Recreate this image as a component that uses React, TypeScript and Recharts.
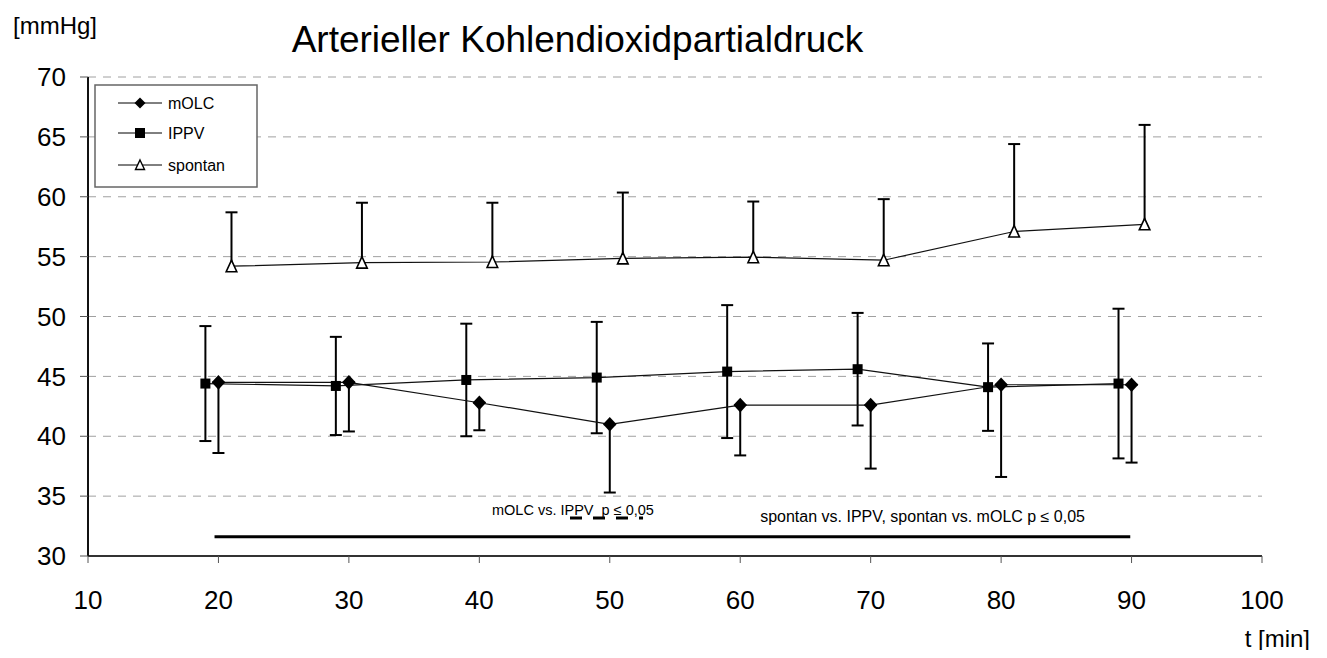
import React from 'react';
import {
  LineChart,
  Line,
  XAxis,
  YAxis,
  CartesianGrid,
  ErrorBar,
  ReferenceLine,
  ReferenceDot,
} from 'recharts';

// ---- data ----
const molcTimes = [20, 30, 40, 50, 60, 70, 80, 90];
const ippvTimes = [19, 29, 39, 49, 59, 69, 79, 89];
const spontanTimes = [21, 31, 41, 51, 61, 71, 81, 91];

const molcMean = [44.5, 44.5, 42.8, 41.0, 42.6, 42.6, 44.3, 44.3];
const molcSd = [5.9, 4.1, 2.3, 5.7, 4.2, 5.3, 7.7, 6.5];

const ippvMean = [44.4, 44.2, 44.7, 44.9, 45.4, 45.6, 44.1, 44.4];
const ippvSd = [4.8, 4.1, 4.7, 4.65, 5.55, 4.7, 3.65, 6.25];

const spontanMean = [54.2, 54.5, 54.55, 54.85, 54.95, 54.7, 57.1, 57.7];
const spontanSd = [4.5, 5.0, 4.95, 5.5, 4.65, 5.1, 7.3, 8.3];

const xTicks = [10, 20, 30, 40, 50, 60, 70, 80, 90, 100];
const yTicks = [30, 35, 40, 45, 50, 55, 60, 65, 70];

const seriesNames = ['mOLC', 'IPPV', 'spontan'];
const titleText = 'Arterieller Kohlendioxidpartialdruck';
const yUnit = '[mmHg]';
const xUnit = 't [min]';

// significance annotations (data coordinates)
const sigSolidX = [19.7, 89.9];
const sigSolidY = 31.6;
const sigDashX = [46.95, 52.55];
const sigDashY = 33.17;
const sigText1 = 'mOLC vs. IPPV  p \u2264 0,05';
const sigText1Pos = { x: 40.97, y: 33.42 };
const sigText2 = 'spontan vs. IPPV, spontan vs. mOLC p \u2264 0,05';
const sigText2Pos = { x: 86.43, y: 32.84 };

// ---- tables built from arrays ----
const molcData = molcTimes.map((t, i) => ({ t, v: molcMean[i], err: [molcSd[i], 0] }));
const ippvData = ippvTimes.map((t, i) => ({ t, v: ippvMean[i], err: ippvSd[i] }));
const spontanData = spontanTimes.map((t, i) => ({
  t,
  v: spontanMean[i],
  err: [0, spontanSd[i]],
  top: spontanMean[i] + spontanSd[i],
}));

const FONT = "'Liberation Sans', Arial, Helvetica, sans-serif";

const DiamondDot = (props: any) => {
  const { cx, cy, index } = props;
  if (cx == null || cy == null) return <g key={`dm-${index}`} />;
  return (
    <polygon
      key={`dm-${index}`}
      points={`${cx},${cy - 7.3} ${cx + 6.8},${cy} ${cx},${cy + 7.3} ${cx - 6.8},${cy}`}
      fill="#000"
    />
  );
};

const SquareDot = (props: any) => {
  const { cx, cy, index } = props;
  if (cx == null || cy == null) return <g key={`sq-${index}`} />;
  return <rect key={`sq-${index}`} x={cx - 5} y={cy - 5} width={10} height={10} fill="#000" />;
};

const TriangleDot = (props: any) => {
  const { cx, cy, index } = props;
  if (cx == null || cy == null) return <g key={`tr-${index}`} />;
  return (
    <polygon
      key={`tr-${index}`}
      points={`${cx},${cy - 6} ${cx + 5.3},${cy + 5.5} ${cx - 5.3},${cy + 5.5}`}
      fill="#fff"
      stroke="#000"
      strokeWidth={1.6}
    />
  );
};

const CapDot = (props: any) => {
  const { cx, cy, index } = props;
  if (cx == null || cy == null) return <g key={`cp-${index}`} />;
  return <line key={`cp-${index}`} x1={cx - 6} x2={cx + 6} y1={cy} y2={cy} stroke="#000" strokeWidth={2} />;
};

const makeLabel = (text: string, anchor: 'start' | 'end', size: number) => (p: any) => {
  const vb = p.viewBox || {};
  return (
    <text
      x={vb.x}
      y={vb.y}
      textAnchor={anchor}
      fontSize={size}
      fontFamily={FONT}
      fill="#000"
      style={{ whiteSpace: 'pre' }}
    >
      {text}
    </text>
  );
};

const Legend = () => {
  const rows = [0, 1, 2];
  const rowY = [18, 48, 80];
  return (
    <g transform="translate(87,77)">
      <rect x={0} y={0} width={162} height={102} fill="#fff" stroke="#666" strokeWidth={1.5} />
      {rows.map((r) => {
        const y = rowY[r];
        return (
          <g key={r}>
            <line x1={23} x2={67} y1={y} y2={y} stroke="#000" strokeWidth={1} />
            {r === 0 && (
              <polygon points={`45,${y - 5.5} 50.5,${y} 45,${y + 5.5} 39.5,${y}`} fill="#000" />
            )}
            {r === 1 && <rect x={40} y={y - 5} width={10} height={10} fill="#000" />}
            {r === 2 && (
              <polygon
                points={`45,${y - 5} 49.5,${y + 4.5} 40.5,${y + 4.5}`}
                fill="#fff"
                stroke="#000"
                strokeWidth={1.4}
              />
            )}
            <text x={73} y={y + 5.8} fontSize={16} fontFamily={FONT} fill="#000">
              {seriesNames[r]}
            </text>
          </g>
        );
      })}
    </g>
  );
};

export default function App() {
  return (
    <div style={{ position: 'relative', width: 1311, height: 642, fontFamily: FONT, background: '#fff' }}>
      <LineChart
        width={1311}
        height={642}
        margin={{ top: 69, right: 57, left: 0, bottom: 34 }}
      >
        <CartesianGrid horizontal vertical={false} stroke="#a0a0a0" strokeDasharray="8 7" />
        <XAxis
          dataKey="t"
          type="number"
          domain={[10, 100]}
          ticks={xTicks}
          interval={0}
          allowDataOverflow
          height={60}
          tickSize={7}
          tickMargin={28}
          axisLine={{ stroke: '#333', strokeWidth: 2 }}
          tickLine={{ stroke: '#555', strokeWidth: 1 }}
          tick={{ fill: '#000', fontSize: 26, fontFamily: FONT }}
        />
        <YAxis
          type="number"
          domain={[30, 70]}
          ticks={yTicks}
          interval={0}
          allowDataOverflow
          width={80}
          tickSize={8}
          tickMargin={14}
          axisLine={{ stroke: '#111', strokeWidth: 2 }}
          tickLine={{ stroke: '#555', strokeWidth: 1 }}
          tick={{ fill: '#000', fontSize: 26, fontFamily: FONT }}
        />
        <ReferenceLine
          segment={[{ x: sigSolidX[0], y: sigSolidY }, { x: sigSolidX[1], y: sigSolidY }]}
          stroke="#000"
          strokeWidth={3}
          ifOverflow="visible"
        />
        <ReferenceLine
          segment={[{ x: sigDashX[0], y: sigDashY }, { x: sigDashX[1], y: sigDashY }]}
          stroke="#000"
          strokeWidth={3}
          strokeDasharray="12 11"
          ifOverflow="visible"
        />
        <ReferenceDot
          x={sigText1Pos.x}
          y={sigText1Pos.y}
          r={0}
          fill="none"
          stroke="none"
          ifOverflow="visible"
          label={makeLabel(sigText1, 'start', 14.5)}
        />
        <ReferenceDot
          x={sigText2Pos.x}
          y={sigText2Pos.y}
          r={0}
          fill="none"
          stroke="none"
          ifOverflow="visible"
          label={makeLabel(sigText2, 'end', 16)}
        />
        {/* spontan error bar stems (upward only) */}
        <Line
          data={spontanData}
          dataKey="v"
          stroke="none"
          dot={false}
          activeDot={false}
          legendType="none"
          isAnimationActive={false}
        >
          <ErrorBar dataKey="err" direction="y" width={0} stroke="#000" strokeWidth={2} />
        </Line>
        {/* spontan error bar caps */}
        <Line
          data={spontanData}
          dataKey="top"
          stroke="none"
          dot={CapDot}
          activeDot={false}
          legendType="none"
          isAnimationActive={false}
        />
        <Line
          data={ippvData}
          dataKey="v"
          name="IPPV"
          stroke="#111"
          strokeWidth={1.2}
          dot={SquareDot}
          activeDot={false}
          isAnimationActive={false}
        >
          <ErrorBar dataKey="err" direction="y" width={6} stroke="#000" strokeWidth={2} />
        </Line>
        <Line
          data={molcData}
          dataKey="v"
          name="mOLC"
          stroke="#111"
          strokeWidth={1.2}
          dot={DiamondDot}
          activeDot={false}
          isAnimationActive={false}
        >
          <ErrorBar dataKey="err" direction="y" width={6} stroke="#000" strokeWidth={2} />
        </Line>
        <Line
          data={spontanData}
          dataKey="v"
          name="spontan"
          stroke="#111"
          strokeWidth={1.2}
          dot={TriangleDot}
          activeDot={false}
          isAnimationActive={false}
        />
      </LineChart>
      <svg
        width={1311}
        height={650}
        style={{ position: 'absolute', left: 0, top: 0, pointerEvents: 'none', overflow: 'visible' }}
      >
        <text x={569.5} y={44} textAnchor="middle" fontSize={37} fontFamily={FONT} fill="#000">
          {titleText}
        </text>
        <text x={5} y={26} fontSize={24} fontFamily={FONT} fill="#000">
          {yUnit}
        </text>
        <text x={1302} y={639} textAnchor="end" fontSize={24} fontFamily={FONT} fill="#000">
          {xUnit}
        </text>
        <Legend />
      </svg>
    </div>
  );
}
